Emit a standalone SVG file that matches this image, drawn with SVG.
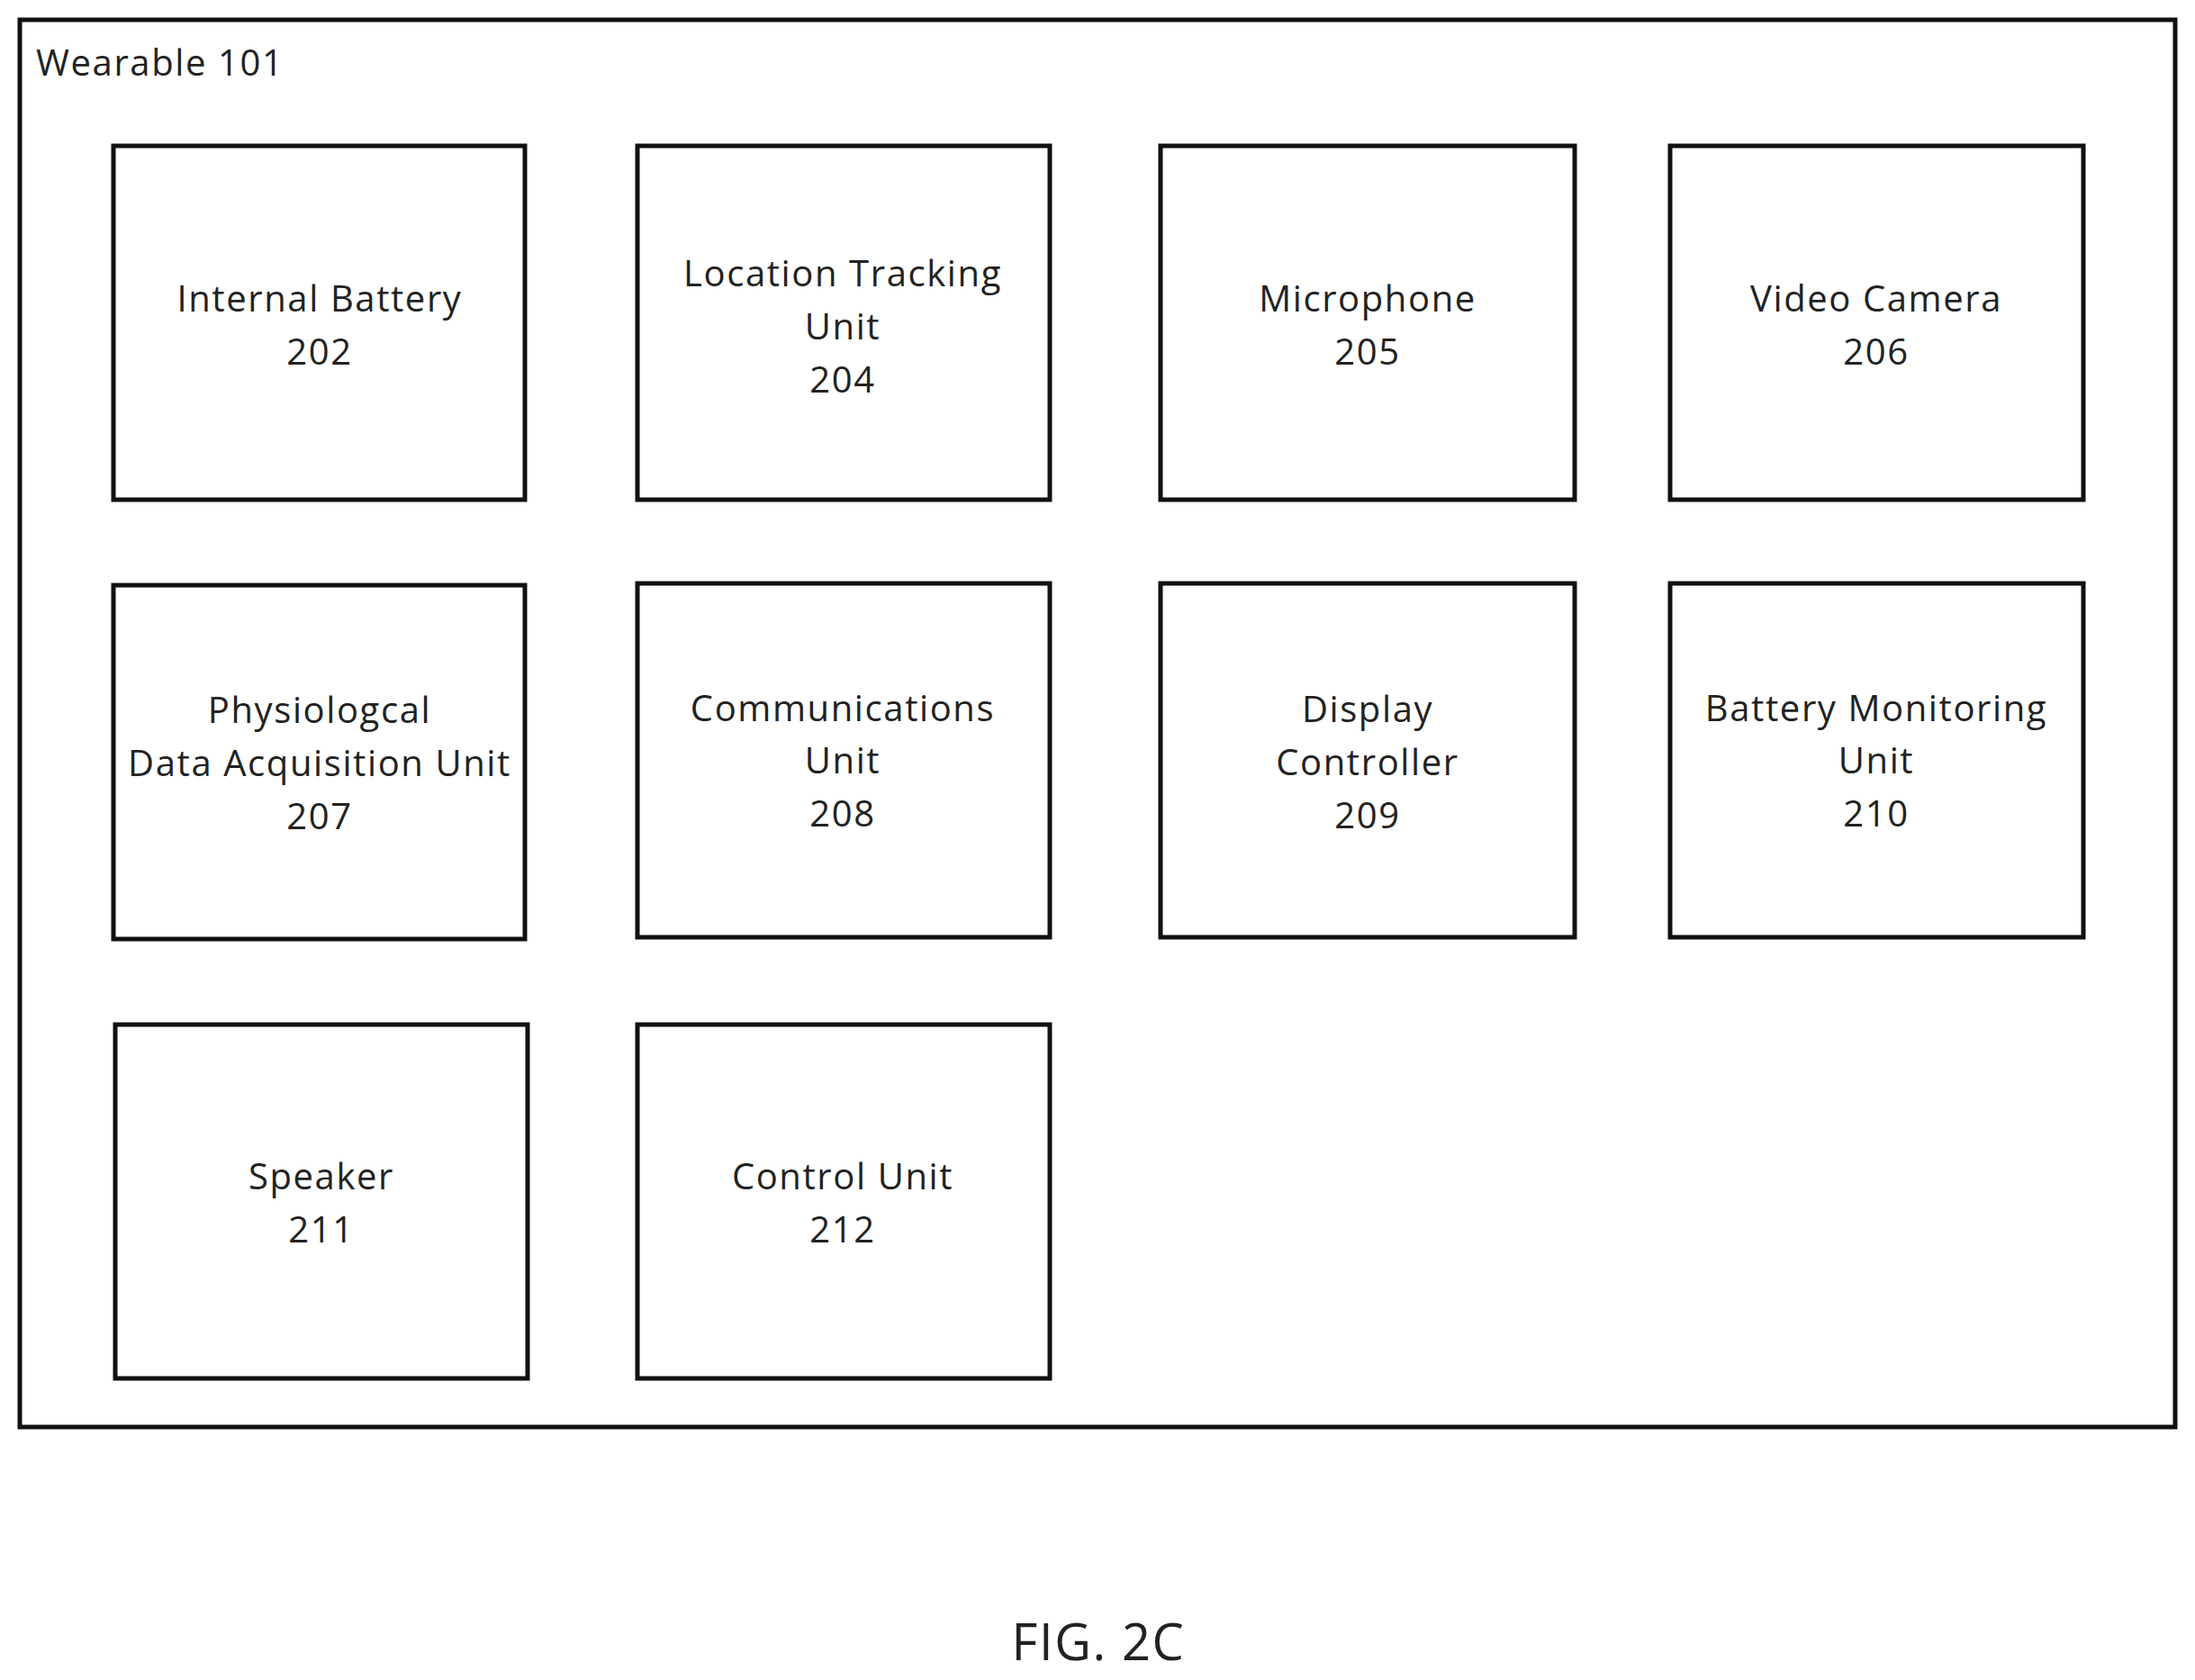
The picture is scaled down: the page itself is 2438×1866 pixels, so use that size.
<svg xmlns="http://www.w3.org/2000/svg" width="2438" height="1866" viewBox="0 0 2438 1866">
<style>
.b{fill:none;stroke:#111;stroke-width:5}
text{font-family:"Open Sans","Liberation Sans",sans-serif;font-size:40px;letter-spacing:1.6px;fill:#222;dominant-baseline:central;text-anchor:middle}
</style>
<rect width="2438" height="1866" fill="#fff"/>
<g id="wearable"><rect class="b" x="22" y="22" width="2394" height="1563"/><text x="40" y="68" style="text-anchor:start">Wearable 101</text></g>
<g id="n202"><rect class="b" x="126" y="162" width="457" height="393"/><text x="355" y="330">Internal Battery</text><text x="355" y="389">202</text></g>
<g id="n204"><rect class="b" x="708" y="162" width="458" height="393"/><text x="936" y="302">Location Tracking</text><text x="936" y="361">Unit</text><text x="936" y="420">204</text></g>
<g id="n205"><rect class="b" x="1289" y="162" width="460" height="393"/><text x="1519" y="330">Microphone</text><text x="1519" y="389">205</text></g>
<g id="n206"><rect class="b" x="1855" y="162" width="459" height="393"/><text x="2084" y="330">Video Camera</text><text x="2084" y="389">206</text></g>
<g id="n207"><rect class="b" x="126" y="650" width="457" height="393"/><text x="355" y="787">Physiologcal</text><text x="355" y="846">Data Acquisition Unit</text><text x="355" y="905">207</text></g>
<g id="n208"><rect class="b" x="708" y="648" width="458" height="393"/><text x="936" y="785">Communications</text><text x="936" y="843">Unit</text><text x="936" y="902">208</text></g>
<g id="n209"><rect class="b" x="1289" y="648" width="460" height="393"/><text x="1519" y="786">Display</text><text x="1519" y="845">Controller</text><text x="1519" y="904">209</text></g>
<g id="n210"><rect class="b" x="1855" y="648" width="459" height="393"/><text x="2084" y="785">Battery Monitoring</text><text x="2084" y="843">Unit</text><text x="2084" y="902">210</text></g>
<g id="n211"><rect class="b" x="128" y="1138" width="458" height="393"/><text x="357" y="1305">Speaker</text><text x="357" y="1364">211</text></g>
<g id="n212"><rect class="b" x="708" y="1138" width="458" height="393"/><text x="936" y="1305">Control Unit</text><text x="936" y="1364">212</text></g>
<g id="connectors"></g>
<text x="1220" y="1822" style="font-size:56px">FIG. 2C</text>
</svg>
